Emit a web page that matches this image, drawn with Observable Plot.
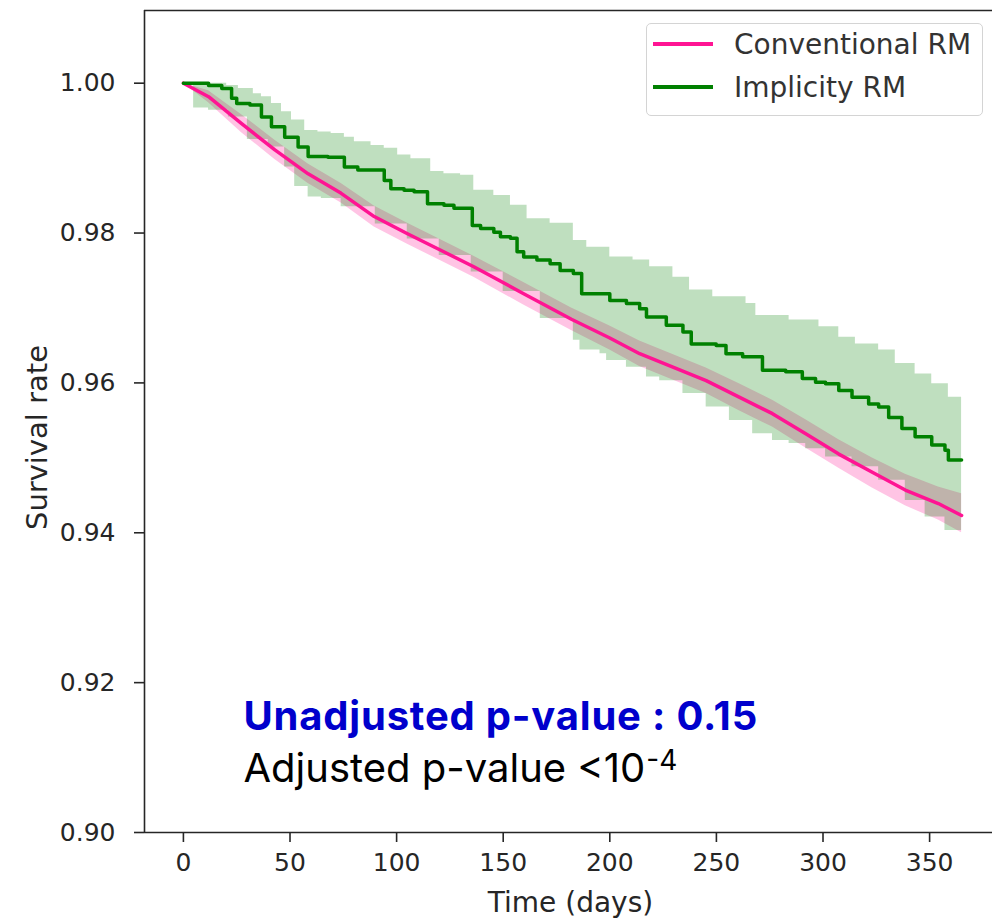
<!DOCTYPE html>
<html>
<head>
<meta charset="utf-8">
<script src="https://cdn.jsdelivr.net/npm/d3@7"></script>
<script src="https://cdn.jsdelivr.net/npm/@observablehq/plot@0.6"></script>
<style>
  html, body { margin: 0; padding: 0; background: #fff; }
  #wrap { position: relative; width: 992px; height: 918px; overflow: hidden; }
  #legend { position: absolute; left: 646px; top: 23px; width: 337px; height: 93px;
    border: 1px solid #d4d4d4; border-radius: 5px; background: rgba(255,255,255,0.85);
    box-sizing: border-box; font-family: "DejaVu Sans"; font-size: 28px; color: #333; }
  .row { position: absolute; left: 0; height: 32px; display: flex; align-items: center; white-space: nowrap; }
  .sw { width: 60px; height: 3.5px; margin-left: 6px; margin-right: 21px; }
</style>
</head>
<body>
<div id="wrap"></div>
<script>
// ---------- data ----------
const seriesNames = ["Conventional RM", "Implicity RM"];
const seriesColors = ["#ff1493", "#008000"];

// Conventional RM (pink): survival estimate and confidence band
const convDays = [0, 11.8, 27.3, 42.9, 58.5, 74, 89.5, 105.1, 120.7, 136.2, 159.6, 182, 200, 214, 229.6, 245.2, 260.7, 276.3, 291.9, 307.4, 322.9, 338.6, 354.1, 365];
const convSurv = [1.0, .9982, .9946, .9911, .9879, .9853, .9822, .9799, .9777, .9755, .9719, .9685, .9660, .9639, .9621, .9603, .9581, .9559, .9532, .9505, .9481, .9457, .9439, .9423];
const convUpper = [1.0, .9990, .9958, .9924, .9892, .9866, .9836, .9813, .9791, .9769, .9734, .9700, .9676, .9656, .9638, .9620, .9599, .9577, .9551, .9524, .9500, .9478, .9461, .9452];
const convLower = [1.0, .9974, .9934, .9898, .9866, .9840, .9808, .9785, .9763, .9741, .9704, .9670, .9644, .9622, .9604, .9586, .9563, .9541, .9513, .9486, .9460, .9436, .9417, .9400];

// Implicity RM (green): step survival estimate
const implDays = [0, 11.8, 18, 22.6, 25, 31.2, 36.6, 41.3, 47.5, 53.8, 58.5, 67.8, 75.5, 81.8, 94.2, 97.3, 103.5, 108.2, 114.5, 122.2, 126.9, 135.5, 139.4, 145.6, 148.7, 153.4, 156.5, 159.6, 165.8, 172, 176.7, 182.9, 186.8, 200, 207.8, 214, 217.2, 226.5, 234.3, 238.2, 249.9, 254.5, 262.3, 271.6, 282.5, 290.3, 296.5, 301.2, 307.4, 313.6, 321.4, 326.1, 330.8, 337, 343.2, 351, 357.2, 358.8, 365];
const implSurv = [1.0, .9997, .9993, .9980, .9973, .9971, .9955, .9942, .9928, .9915, .9902, .9901, .9888, .9884, .9870, .9859, .9857, .9855, .9839, .9837, .9833, .9810, .9806, .9801, .9795, .9793, .9775, .9768, .9764, .9759, .9750, .9746, .9719, .9710, .9706, .9699, .9688, .9677, .9668, .9652, .9650, .9639, .9635, .9617, .9615, .9606, .9601, .9599, .9590, .9581, .9572, .9568, .9554, .9539, .9528, .9517, .9510, .9497, .9497];
// Implicity RM upper confidence limit (steps)
const implUpperDays = [0, 20.3, 25.8, 32.8, 36.6, 41.3, 46, 50.7, 56.9, 63.1, 69.3, 75.5, 80.2, 88, 94.2, 100.5, 106.7, 116, 122.2, 130, 136.2, 145.6, 153.4, 161.2, 172, 182.9, 189.2, 200, 210.9, 218.7, 229.6, 237.4, 248.3, 263.9, 268.5, 284.1, 298.1, 307.4, 315.2, 326.1, 333.9, 343.2, 351, 358.8, 365];
const implUpper = [1.0, .9997, .9993, .9986, .9982, .9973, .9962, .9951, .9937, .9935, .9933, .9928, .9922, .9917, .9913, .9904, .9899, .9882, .9879, .9877, .9857, .9850, .9837, .9819, .9813, .9790, .9781, .9768, .9764, .9755, .9741, .9724, .9715, .9706, .9690, .9684, .9675, .9661, .9652, .9644, .9626, .9612, .9599, .9581, .9577];
// Implicity RM lower confidence limit (steps)
const implLowerDays = [0, 4.8, 11.8, 21.1, 30, 39.8, 47.5, 52.2, 58.5, 64.7, 74, 90, 105, 120, 135, 150, 167.4, 182.9, 186, 195.4, 198.5, 207.8, 217.2, 223.4, 234.3, 245.2, 256.1, 267, 276.3, 284.1, 291.9, 301.2, 313.6, 326.1, 338.6, 347.9, 357.2, 365];
const implLower = [1.0, .9967, .9964, .9955, .9925, .9915, .9888, .9862, .9848, .9846, .9835, .9812, .9792, .9770, .9748, .9722, .9686, .9657, .9644, .9639, .9630, .9621, .9608, .9603, .9586, .9568, .9550, .9532, .9523, .9519, .9512, .9501, .9488, .9470, .9443, .9421, .9403, .9397];

// axes
const xTicks = [0, 50, 100, 150, 200, 250, 300, 350];
const yTicks = [0.90, 0.92, 0.94, 0.96, 0.98, 1.00];
const xDomain = [-18.25, 379.5];
const yDomain = [0.90, 1.0097];
const xLabel = "Time (days)";
const yLabel = "Survival rate";
const pText1 = "Unadjusted p-value : 0.15";
const pText2 = "Adjusted p-value <10";
const pExp = "-4";

// ---------- build tables ----------
const conv = convDays.map((t, i) => ({t, s: convSurv[i], hi: convUpper[i], lo: convLower[i]}));
const impl = implDays.map((t, i) => ({t, s: implSurv[i]}));
// evaluate the two step limits on a common time grid (step lookup, no interpolation)
const stepAt = (days, vals, t) => vals[d3.bisectRight(days, t) - 1];
const bandDays = Array.from(new Set([...implUpperDays, ...implLowerDays])).sort((a, b) => a - b);
const implBand = bandDays.map(t => ({t, hi: stepAt(implUpperDays, implUpper, t), lo: stepAt(implLowerDays, implLower, t)}));

const ink = "#262626";

const chart = Plot.plot({
  width: 992,
  height: 918,
  marginLeft: 144,
  marginRight: 0,
  marginTop: 10,
  marginBottom: 86,
  style: {fontFamily: "DejaVu Sans", fontSize: "25px", color: ink, background: "transparent"},
  x: {domain: xDomain, ticks: xTicks, tickSize: 10, tickPadding: 11, label: null, tickFormat: d3.format("d")},
  y: {domain: yDomain, ticks: yTicks, tickSize: 10, tickPadding: 19, label: null, tickFormat: d3.format(".2f")},
  marks: [
    Plot.areaY(conv, {x: "t", y1: "lo", y2: "hi", fill: seriesColors[0], fillOpacity: 0.25, curve: "linear"}),
    Plot.areaY(implBand, {x: "t", y1: "lo", y2: "hi", fill: seriesColors[1], fillOpacity: 0.25, curve: "step-after"}),
    Plot.line(conv, {x: "t", y: "s", stroke: seriesColors[0], strokeWidth: 3.5, curve: "linear"}),
    Plot.line(impl, {x: "t", y: "s", stroke: seriesColors[1], strokeWidth: 3.5, curve: "step-after"}),
    Plot.ruleX([xDomain[0]], {stroke: ink, strokeWidth: 1.6}),
    Plot.ruleY([yDomain[0]], {stroke: ink, strokeWidth: 1.6}),
    Plot.ruleY([yDomain[1]], {stroke: ink, strokeWidth: 1.6}),
    Plot.text([yLabel], {frameAnchor: "left", rotate: -90, dx: -98, dy: 16, lineAnchor: "bottom", textAnchor: "middle", fontSize: 29, fill: ink}),
    Plot.text([xLabel], {frameAnchor: "bottom", dx: 2, dy: 79, lineAnchor: "bottom", textAnchor: "middle", fontSize: 28, fill: ink}),
    Plot.text([pText1], {frameAnchor: "bottom-left", dx: 99, dy: -103, lineAnchor: "bottom", textAnchor: "start", fontSize: 40, fontWeight: "bold", fill: "#0000cc", fontFamily: "Inter"}),
    Plot.text([pText2], {frameAnchor: "bottom-left", dx: 99, dy: -51, lineAnchor: "bottom", textAnchor: "start", fontSize: 40, fill: "#000", fontFamily: "Inter"})
  ]
});

const wrap = document.getElementById("wrap");
wrap.appendChild(chart);

// tick styling
chart.querySelectorAll('[aria-label$="tick"]').forEach(g => { g.setAttribute("stroke-width", "1.6"); g.setAttribute("stroke", ink); });

// annotation tweaks: letter spacing on bold line, superscript exponent
chart.querySelectorAll("text").forEach(t => {
  if (t.textContent === pText1) {
    t.setAttribute("letter-spacing", "0.8");
  }
  if (t.textContent === pText2) {
    const ts = document.createElementNS("http://www.w3.org/2000/svg", "tspan");
    ts.setAttribute("font-size", "28");
    ts.setAttribute("dy", "-12");
    ts.setAttribute("dx", "1");
    ts.textContent = pExp;
    t.appendChild(ts);
  }
});

// legend
const legend = document.createElement("div");
legend.id = "legend";
seriesNames.forEach((name, i) => {
  const row = document.createElement("div");
  row.className = "row";
  row.style.top = (i === 0 ? 4 : 47) + "px";
  const sw = document.createElement("span");
  sw.className = "sw";
  sw.style.background = seriesColors[i];
  const lab = document.createElement("span");
  lab.textContent = name;
  row.appendChild(sw);
  row.appendChild(lab);
  legend.appendChild(row);
});
wrap.appendChild(legend);
</script>
</body>
</html>
